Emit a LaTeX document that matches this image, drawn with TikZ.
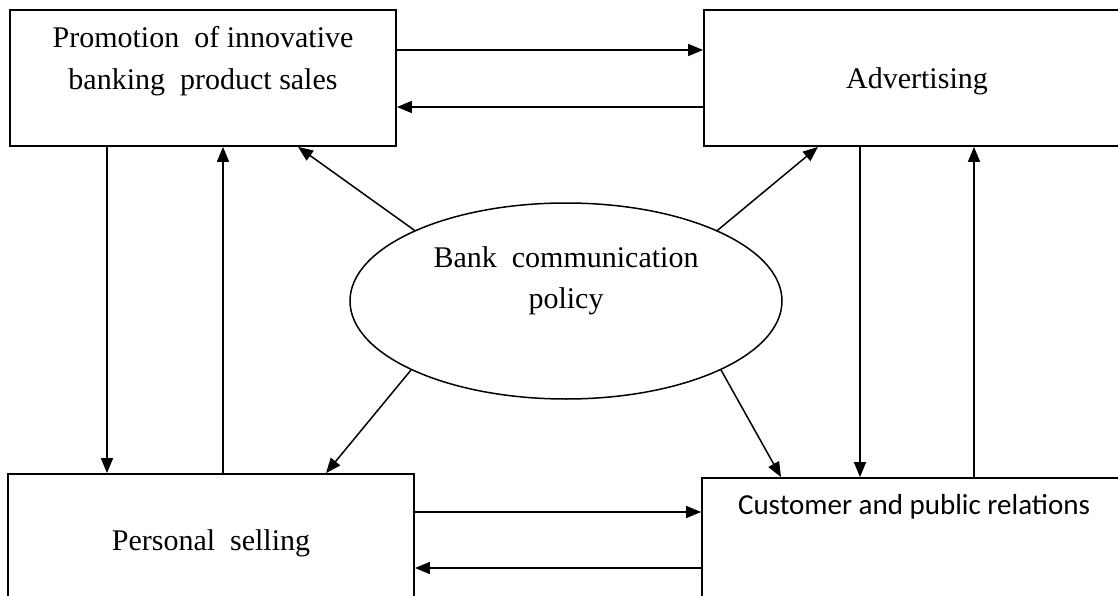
\documentclass[tikz,border=0pt]{standalone}
\usepackage{fontspec}
\setmainfont{Liberation Serif}
\newfontfamily\calibfont{Carlito}
\usetikzlibrary{arrows.meta,shapes.geometric}
\begin{document}
\begin{tikzpicture}[x=1pt,y=-1pt,
  box/.style={draw, line width=1.8pt, rectangle, inner sep=0pt},
  arr/.style={line width=1.5pt, -{Triangle[length=15pt,width=12pt]}},
  lbl/.style={anchor=base, inner sep=0pt, font=\fontsize{30}{36}\selectfont},
  slbl/.style={anchor=base, inner sep=0pt, font=\calibfont\fontsize{29}{34}\selectfont},
  ]
\path[fill=white] (0,0) rectangle (1118,596);
\clip (0,0) rectangle (1118,596);
% boxes
\node[box, minimum width=386pt, minimum height=136pt] (promo) at (203,78) {};
\node[box, minimum width=426pt, minimum height=136pt] (adv) at (917,78) {};
\node[box, minimum width=406pt, minimum height=150pt] (pers) at (211,549) {};
\node[box, minimum width=424pt, minimum height=146pt] (cust) at (914,551) {};
\node[draw, ellipse, line width=1.5pt, inner sep=0pt, minimum width=432pt, minimum height=196pt] (ell) at (566,301) {};
% texts
\node[lbl] (promoA) at (203,48) {Promotion\ \ of innovative};
\node[lbl] (promoB) at (203,90) {banking\ \ product sales};
\node[lbl] (advT) at (917,89) {Advertising};
\node[lbl] (persT) at (211,550) {Personal\ \ selling};
\node[slbl] (custT) at (914,514) {Customer and public relations};
\node[lbl] (bankA) at (566,267) {Bank\ \ communication};
\node[lbl] (bankB) at (566,308) {policy};
% helper coordinates
\coordinate (ya) at (0,50);
\coordinate (yb) at (0,107);
\coordinate (yc) at (0,512);
\coordinate (yd) at (0,568);
\coordinate (xa) at (107,0);
\coordinate (xb) at (223,0);
\coordinate (xc) at (860,0);
\coordinate (xd) at (974,0);
\coordinate (xe) at (298,0);
\coordinate (xf) at (818,0);
\coordinate (xg) at (326,0);
\coordinate (xh) at (781,0);
% horizontal connectors
\draw[arr] (promo.east |- ya) -- (adv.west |- ya);
\draw[arr] (adv.west |- yb) -- (promo.east |- yb);
\draw[arr] (pers.east |- yc) -- (cust.west |- yc);
\draw[arr] (cust.west |- yd) -- (pers.east |- yd);
% vertical connectors
\draw[arr] (promo.south -| xa) -- (pers.north -| xa);
\draw[arr] (pers.north -| xb) -- (promo.south -| xb);
\draw[arr] (adv.south -| xc) -- (cust.north -| xc);
\draw[arr] (cust.north -| xd) -- (adv.south -| xd);
% diagonal connectors
\draw[arr] (ell.155) -- (promo.south -| xe);
\draw[arr] (ell.25) -- (adv.south -| xf);
\draw[arr] (ell.204) -- (pers.north -| xg);
\draw[arr] (ell.336) -- (cust.north -| xh);
\end{tikzpicture}
\end{document}
